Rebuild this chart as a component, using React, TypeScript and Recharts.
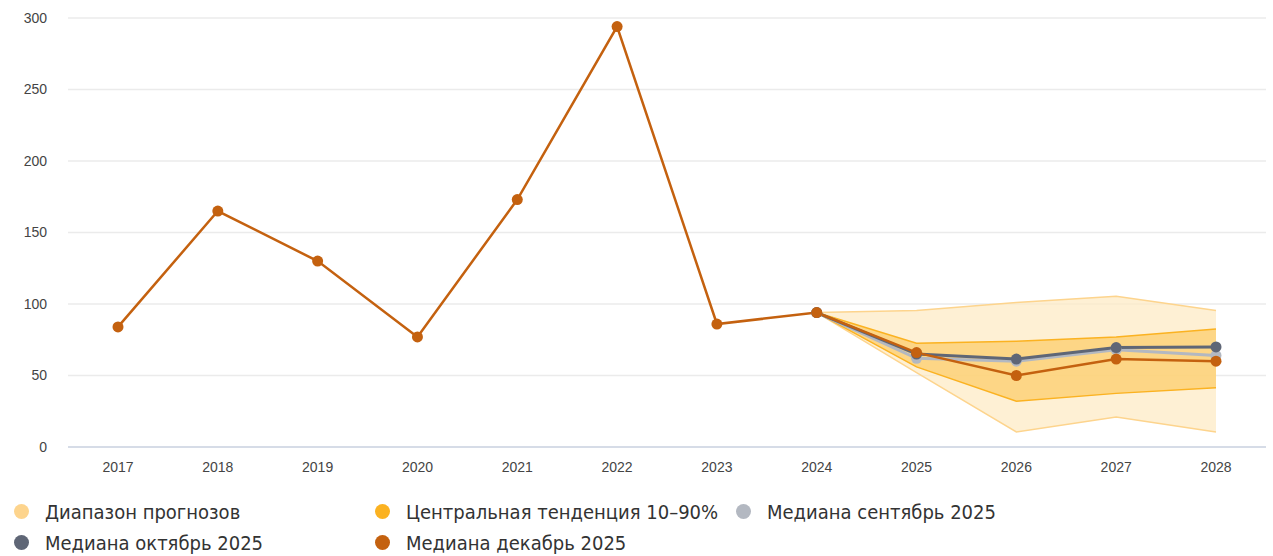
import { ComposedChart, Area, Line, XAxis, YAxis, CartesianGrid } from "recharts";

const years = ["2017", "2018", "2019", "2020", "2021", "2022", "2023", "2024", "2025", "2026", "2027", "2028"];
const medianDec = [84, 165, 130, 77, 173, 294, 86, 94, 66, 50, 61.5, 60];
const medianOct = [null, null, null, null, null, null, null, 94, 65, 61.5, 69.5, 70];
const medianSep = [null, null, null, null, null, null, null, 94, 62, 60, 68, 64];
const rangeLow = [null, null, null, null, null, null, null, 94, 52, 10.5, 21, 10.5];
const rangeHigh = [null, null, null, null, null, null, null, 94, 95.5, 101, 105.5, 95.5];
const centralLow = [null, null, null, null, null, null, null, 94, 56, 32, 37.5, 41.5];
const centralHigh = [null, null, null, null, null, null, null, 94, 72.5, 74, 77, 82.5];
const yTicks = [0, 50, 100, 150, 200, 250, 300];

const data = years.map((year, i) => ({
  year,
  dec: medianDec[i],
  oct: medianOct[i],
  sep: medianSep[i],
  range: rangeLow[i] == null ? null : [rangeLow[i], rangeHigh[i]],
  central: centralLow[i] == null ? null : [centralLow[i], centralHigh[i]],
}));

const legendItems = [
  { label: "Диапазон прогнозов", color: "#fdd48d" },
  { label: "Центральная тенденция 10–90%", color: "#fbb221" },
  { label: "Медиана сентябрь 2025", color: "#b3b8c1" },
  { label: "Медиана октябрь 2025", color: "#5f6676" },
  { label: "Медиана декабрь 2025", color: "#c4610f" },
];

const tickStyle = { fill: "#444", fontSize: 14, fontFamily: "Liberation Sans, Arial, sans-serif" };

export default function App() {
  return (
    <div style={{ position: "absolute", left: 0, top: 0, width: 1273, height: 556, background: "#fff" }}>
      <ComposedChart width={1273} height={477} data={data} margin={{ top: 18, right: 7, bottom: 0, left: 0 }}>
        <CartesianGrid stroke="#ebebeb" strokeWidth={1.5} vertical={false} />
        <XAxis
          dataKey="year"
          tick={tickStyle}
          tickLine={false}
          tickSize={0}
          tickMargin={15}
          padding={{ left: 50, right: 50 }}
          stroke="#d6dce7"
          strokeWidth={2}
        />
        <YAxis
          domain={[0, 300]}
          ticks={yTicks}
          tick={tickStyle}
          tickLine={false}
          axisLine={false}
          tickSize={0}
          tickMargin={21}
          width={68}
        />
        <Area
          dataKey="range"
          stroke="#fdd48d"
          strokeWidth={1.5}
          fill="#fde9c2"
          fillOpacity={0.7}
          isAnimationActive={false}
        />
        <Area
          dataKey="central"
          stroke="#fbb221"
          strokeWidth={1.5}
          fill="#fdcf72"
          fillOpacity={0.8}
          isAnimationActive={false}
        />
        <Line
          dataKey="sep"
          stroke="#b3b8c1"
          strokeWidth={3}
          dot={{ r: 5.5, fill: "#b3b8c1", stroke: "none" }}
          isAnimationActive={false}
        />
        <Line
          dataKey="oct"
          stroke="#5f6676"
          strokeWidth={3}
          dot={{ r: 5.5, fill: "#5f6676", stroke: "none" }}
          isAnimationActive={false}
        />
        <Line
          dataKey="dec"
          stroke="#c4610f"
          strokeWidth={2.5}
          dot={{ r: 5.5, fill: "#c4610f", stroke: "none" }}
          isAnimationActive={false}
        />
      </ComposedChart>
      <div
        style={{
          position: "absolute",
          left: 14,
          top: 496,
          width: 1100,
          display: "flex",
          flexWrap: "wrap",
          fontFamily: "'Liberation Sans Narrow', 'DejaVu Sans Condensed', sans-serif",
          fontSize: 20,
          color: "#333",
        }}
      >
        {legendItems.map((item) => (
          <div key={item.label} style={{ width: 361, height: 31, display: "flex", alignItems: "center" }}>
            <span
              style={{
                display: "inline-block",
                width: 15,
                height: 15,
                borderRadius: "50%",
                background: item.color,
                marginRight: 16,
              }}
            />
            {item.label}
          </div>
        ))}
      </div>
    </div>
  );
}
